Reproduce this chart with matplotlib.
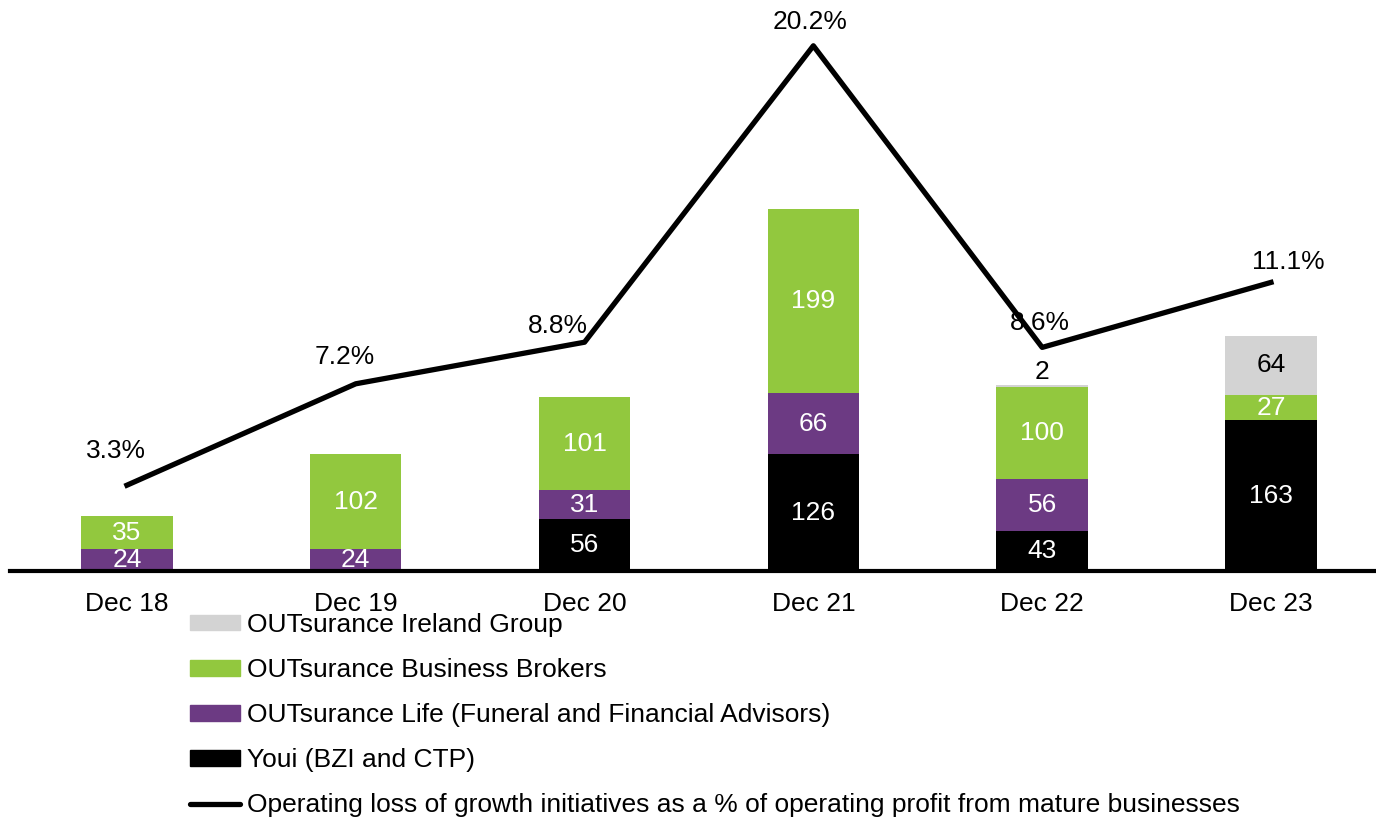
import matplotlib
matplotlib.use("Agg")
import matplotlib.pyplot as plt
from matplotlib.patches import Patch
from matplotlib.lines import Line2D

plt.rcParams['font.family'] = ['Liberation Sans', 'DejaVu Sans']

# data
years = ['Dec 18', 'Dec 19', 'Dec 20', 'Dec 21', 'Dec 22', 'Dec 23']
youi = [0, 0, 56, 126, 43, 163]
life = [24, 24, 31, 66, 56, 0]
brokers = [35, 102, 101, 199, 100, 27]
ireland = [0, 0, 0, 0, 2, 64]
pct = [3.3, 7.2, 8.8, 20.2, 8.6, 11.1]

# label offsets for the line values (pixels)
pct_offsets = [(-11, 34), (-11, 27), (-27, 16), (-3, 24), (-2, 24), (17, 20)]

c_youi = '#000000'
c_life = '#6C3A83'
c_brokers = '#92C83E'
c_ireland = '#D3D3D3'

fig = plt.figure(figsize=(13.76, 8.19), dpi=100)
ax = fig.add_axes([10 / 1376, 1 - 571 / 819, 1 - 10 / 1376, (571 - 10) / 819])

x = list(range(len(years)))
w = 0.40
fs = 19

bottom = [0] * len(years)
series = [(youi, c_youi, 'white'), (life, c_life, 'white'),
          (brokers, c_brokers, 'white'), (ireland, c_ireland, 'black')]
for vals, col, tcol in series:
    ax.bar(x, vals, w, bottom=bottom, color=col, zorder=2)
    for i, v in enumerate(vals):
        if v == 0:
            continue
        if v < 10:
            # tiny segment: put the label above the bar
            ax.text(x[i], bottom[i] + v + 1, str(v), ha='center', va='bottom',
                    fontsize=fs, color='black')
        else:
            ax.text(x[i], bottom[i] + v / 2, str(v), ha='center', va='center',
                    fontsize=fs, color=tcol, zorder=3)
    bottom = [b + v for b, v in zip(bottom, vals)]

ax.set_xlim(-0.511, 5.459)
ax.set_ylim(0, 561 / 0.926)
ax.set_yticks([])
ax.set_xticks(x)
ax.set_xticklabels(years, fontsize=fs)
ax.tick_params(axis='x', length=0, pad=15)
for s in ['top', 'left', 'right']:
    ax.spines[s].set_visible(False)
ax.spines['bottom'].set_linewidth(3)
ax.spines['bottom'].set_zorder(4)

ax2 = ax.twinx()
ax2.plot(x, pct, color='black', lw=3.8, zorder=5)
for i, p in enumerate(pct):
    ax2.annotate(f'{p}%', (x[i], p), xytext=pct_offsets[i], textcoords='offset pixels',
                 ha='center', va='center', fontsize=fs)
ax2.set_ylim(0, 561 / 26.0)
ax2.set_yticks([])
for s in ['top', 'left', 'right', 'bottom']:
    ax2.spines[s].set_visible(False)

handles = [
    Patch(color=c_ireland, label='OUTsurance Ireland Group'),
    Patch(color=c_brokers, label='OUTsurance Business Brokers'),
    Patch(color=c_life, label='OUTsurance Life (Funeral and Financial Advisors)'),
    Patch(color=c_youi, label='Youi (BZI and CTP)'),
    Line2D([0], [0], color='black', lw=3.8, solid_capstyle='round',
           label='Operating loss of growth initiatives as a % of operating profit from mature businesses'),
]
fig.legend(handles=handles, loc='upper left', bbox_to_anchor=(190 / 1376, 1 - 613 / 819),
           frameon=False, fontsize=fs, handlelength=1.9, handleheight=0.53,
           handletextpad=0.27, labelspacing=0.8, borderaxespad=0, borderpad=0)

fig.savefig('out.png', dpi=100)
